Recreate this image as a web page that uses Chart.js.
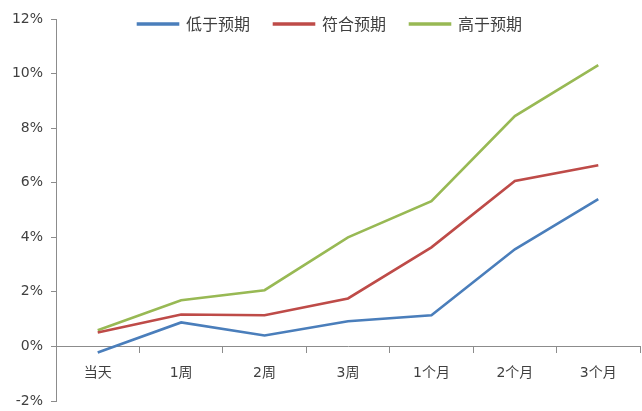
<!DOCTYPE html>
<html><head><meta charset="utf-8">
<script src="https://cdn.jsdelivr.net/npm/chart.js@4/dist/chart.umd.min.js"></script>
<style>html,body{margin:0;padding:0;background:#fff}#wrap{width:642px;height:411px}</style>
</head><body><div id="wrap"><canvas id="c" width="642" height="411"></canvas></div>
<script>
const categories = ['当天','1周','2周','3周','1个月','2个月','3个月'];
const seriesNames = ['低于预期','符合预期','高于预期'];
const belowExp = [-0.22, 0.88, 0.40, 0.92, 1.14, 3.56, 5.40];
const meetExp  = [0.51, 1.17, 1.14, 1.76, 3.63, 6.06, 6.64];
const aboveExp = [0.59, 1.69, 2.06, 4.00, 5.32, 8.44, 10.31];
const yTicks = [-2, 0, 2, 4, 6, 8, 10, 12];

const FONT = "'DejaVu Sans', 'Noto Sans CJK SC', sans-serif";
const LEGEND_FONT = "'Noto Sans CJK SC', sans-serif";
const axisColor = '#8c8c8c';
const LEG_PAD = 24, LEG_FONT_SIZE = 16;

const legendTweak = {
  id: 'legendTweak',
  beforeLayout(chart) {
    const lg = chart.legend;
    if (lg && !lg._patched) {
      const f = lg.fit.bind(lg);
      lg.fit = function () { f(); this.height = 19; };
      lg._patched = true;
    }
  },
  afterLayout(chart) {
    const lg = chart.legend;
    if (lg) {
      lg.top = 24 - LEG_FONT_SIZE / 2 - LEG_PAD;
      lg.bottom = 60;
      lg.height = lg.bottom - lg.top;
      lg.left += 10; lg.right += 10;
    }
  }
};

new Chart(document.getElementById('c'), {
  type: 'line',
  data: {
    labels: categories,
    datasets: [
      { label: seriesNames[0], data: belowExp, borderColor: '#4A7EBB', backgroundColor: '#4A7EBB' },
      { label: seriesNames[1], data: meetExp, borderColor: '#BE4B48', backgroundColor: '#BE4B48' },
      { label: seriesNames[2], data: aboveExp, borderColor: '#98B954', backgroundColor: '#98B954' }
    ].map(d => Object.assign(d, { borderWidth: 2.6, pointRadius: 0, tension: 0, fill: false }))
  },
  options: {
    responsive: false,
    animation: false,
    layout: { padding: { top: 0, bottom: 10, left: 0, right: 2 } },
    plugins: {
      legend: {
        position: 'top',
        align: 'center',
        labels: {
          boxWidth: 40, boxHeight: 1, padding: LEG_PAD,
          color: '#404040',
          font: { family: LEGEND_FONT, size: LEG_FONT_SIZE }
        }
      },
      tooltip: { enabled: false }
    },
    scales: {
      x: {
        position: { y: 0 },
        offset: true,
        afterFit(scale) { scale.height = 0; scale.paddingTop = 0; scale.paddingBottom = 0; },
        grid: { display: true, drawOnChartArea: false, tickLength: 6, color: axisColor, offset: true },
        border: { display: true, color: axisColor, width: 1 },
        ticks: { color: '#404040', font: { family: FONT, size: 14 }, padding: 13, maxRotation: 0 }
      },
      y: {
        min: -2, max: 12,
        afterBuildTicks(scale) { scale.ticks = yTicks.map(v => ({ value: v })); },
        afterFit(scale) { scale.width = 56; scale.paddingBottom = 0; },
        grid: { display: true, drawOnChartArea: false, tickLength: 5, color: axisColor },
        border: { display: true, color: axisColor, width: 1 },
        ticks: { color: '#404040', font: { family: FONT, size: 14 }, padding: 8, callback: v => v + '%' }
      }
    }
  },
  plugins: [legendTweak]
});
</script></body></html>
